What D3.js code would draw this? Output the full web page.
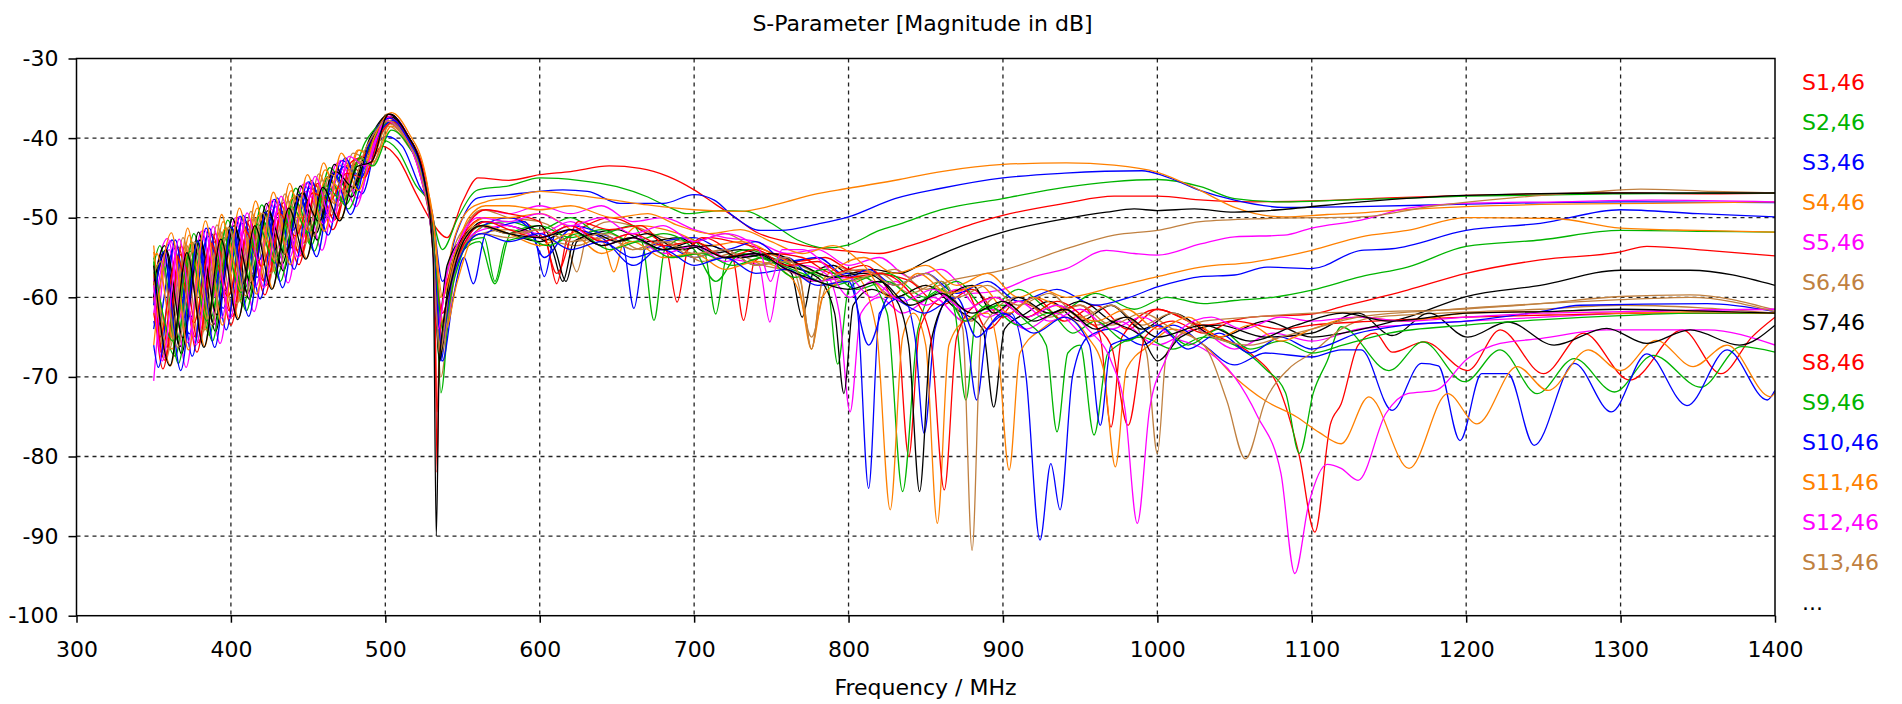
<!DOCTYPE html>
<html>
<head>
<meta charset="utf-8">
<script src="https://cdn.jsdelivr.net/npm/d3@7"></script>
<style>
  body { margin: 0; background: #fff; }
  svg text { font-family: "DejaVu Sans", Verdana, sans-serif; }
</style>
</head>
<body>
<svg id="chart" width="1902" height="704"></svg>
<script>
// ---- data (frequency in MHz, magnitude in dB) ----
var xTicks = [300, 400, 500, 600, 700, 800, 900, 1000, 1100, 1200, 1300, 1400];
var yTicks = [-30, -40, -50, -60, -70, -80, -90, -100];
var chartTitle = 'S-Parameter [Magnitude in dB]';
var xLabel = 'Frequency / MHz';
var legendLabels = ['S1,46','S2,46','S3,46','S4,46','S5,46','S6,46','S7,46','S8,46','S9,46','S10,46','S11,46','S12,46','S13,46','...'];

var s1 = [[350,-57],[355,-67],[366,-53.7],[377,-65],[388,-52.1],[399,-61.7],[410,-50.5],[421,-57.9],[432,-48.3],[443,-54.1],[454,-45.8],[465,-49.7],[476,-43.3],[486,-44.5],[498,-41],[508,-42.5],[520,-47],[530,-50.5],[540,-52.5],[550,-48],[560,-45],[580,-45.3],[600,-44.6],[620,-44.2],[645,-43.5],[665,-43.8],[683,-44.8],[700,-46.5],[713,-48.2],[726,-49.9],[740,-51.8],[760,-53],[780,-53.8],[800,-54.2],[820,-54.5],[840,-53.5],[860,-52.2],[880,-50.8],[900,-49.7],[940,-48.2],[972,-47.3],[1000,-47.3],[1030,-47.8],[1060,-48],[1100,-47.9],[1150,-47.5],[1200,-47.2],[1250,-47],[1300,-46.9],[1350,-47],[1400,-46.9]];
var s2 = [[350,-55],[364,-67.4],[375,-53.1],[386,-64.8],[397,-51.3],[408,-61.1],[419,-49.6],[430,-57.4],[441,-47.4],[452,-53.5],[463,-44.8],[474,-48.4],[484,-44],[497,-40.2],[508,-41.5],[520,-46],[528,-48],[537,-54],[547,-50],[560,-46.5],[580,-46],[600,-45],[625,-45.3],[650,-46.1],[670,-47.4],[685,-48.8],[695,-49.5],[717,-49.1],[734,-49.2],[750,-50.7],[767,-52.8],[785,-53.8],[800,-53.4],[820,-51.6],[833,-50.8],[860,-49],[900,-47.6],[940,-46.2],[970,-45.5],[1000,-45.2],[1028,-46.1],[1050,-47.6],[1080,-48],[1120,-47.8],[1200,-47.3],[1300,-47],[1400,-46.9]];
var s3 = [[350,-64],[362,-52.8],[373,-64.6],[384,-51.3],[395,-61.4],[406,-49.8],[417,-57.5],[428,-47.7],[439,-53.8],[450,-45.5],[461,-49.6],[472,-42.8],[483,-44.6],[493,-41],[501,-39.8],[511,-41],[522,-46],[530,-49],[537,-58],[546,-52],[560,-47.5],[580,-47.1],[600,-46.7],[615,-46.5],[631,-46.7],[652,-48.2],[680,-48.2],[700,-47.1],[713,-47.8],[726,-49.9],[743,-51.6],[756,-51.6],[780,-50.8],[800,-49.9],[830,-47.6],[860,-46.3],[900,-45],[940,-44.4],[990,-44.1],[1005,-44.8],[1028,-46.6],[1050,-47.8],[1082,-48.7],[1130,-48.6],[1200,-48.3],[1300,-48],[1400,-48.1]];
var s4 = [[350,-53.5],[361,-68.6],[372,-51.3],[383,-66.2],[394,-49.6],[405,-62.6],[416,-47.9],[427,-58.9],[438,-45.7],[449,-55.1],[460,-43.1],[471,-50.2],[482,-41.5],[490,-41.8],[502,-37.5],[513,-40],[525,-44.8],[531,-50],[536,-60],[544,-53],[554,-49],[565,-48],[580,-47.5],[600,-46.7],[625,-47.2],[648,-47.8],[670,-48.4],[700,-49],[730,-49.2],[756,-48.2],[777,-47.1],[800,-46.3],[833,-45.2],[860,-44.2],[900,-43.3],[941,-43.1],[972,-43.4],[1000,-44.3],[1028,-46.6],[1050,-48.7],[1082,-49.9],[1110,-49.6],[1132,-49.4],[1160,-49],[1200,-48.6],[1260,-48.3],[1320,-48.2],[1400,-48]];
var s5 = [[350,-58],[359,-52.6],[370,-64],[381,-51.7],[392,-61],[403,-50],[414,-57],[425,-48],[436,-53.4],[447,-45.8],[458,-49.3],[469,-43.1],[480,-46.5],[492,-40],[503,-37],[514,-39.5],[525,-45],[532,-55],[537,-62],[546,-54],[556,-50],[565,-49],[580,-49.5],[600,-48.5],[620,-49.5],[640,-48.5],[660,-50.5],[680,-50],[700,-51.5],[720,-52.5],[740,-53],[760,-54.5],[780,-54],[800,-56],[820,-55],[840,-57.5],[860,-56.5],[880,-59.5],[898,-59.1],[920,-57.4],[941,-56.4],[967,-54.1],[985,-54.5],[1000,-54.7],[1028,-53.3],[1050,-52.4],[1082,-52.2],[1100,-51.3],[1132,-50.3],[1162,-48.8],[1200,-48.2],[1260,-48],[1320,-47.8],[1400,-48]];
var s6 = [[350,-56],[358,-67.8],[369,-52.5],[380,-65.6],[391,-50.9],[402,-62.2],[413,-49.2],[424,-58.4],[435,-47],[446,-54.6],[457,-44.5],[468,-50],[479,-41.9],[488,-42.5],[501,-37],[512,-39],[524,-44.6],[531,-52],[535,-66],[543,-55],[552,-51],[563,-49],[580,-50],[600,-50.5],[617,-53],[624,-56.8],[631,-52],[645,-50.5],[660,-51],[680,-52.5],[700,-53],[720,-52],[740,-54],[760,-55.5],[776,-58],[790,-56],[810,-57.5],[830,-56.5],[850,-59],[866,-57.9],[900,-56.6],[941,-53.9],[972,-52.2],[1000,-51.6],[1028,-50.5],[1071,-50.1],[1132,-49.9],[1180,-48.5],[1230,-47.5],[1280,-46.8],[1313,-46.4],[1360,-46.7],[1400,-46.9]];
var s7 = [[350,-60],[356,-54.5],[367,-66.2],[378,-52.9],[389,-63.4],[400,-51.2],[411,-59.5],[422,-49.3],[433,-55.9],[444,-47.1],[455,-52],[466,-44.4],[477,-46.7],[490,-40],[503,-37],[514,-39.5],[525,-44.5],[531,-52],[534,-64],[540,-56],[553,-52],[563,-50.5],[580,-51],[600,-52.5],[608,-54],[615,-58],[622,-53],[635,-52],[650,-51.5],[670,-53],[690,-52.5],[710,-54.5],[730,-54],[750,-55.5],[763,-57],[770,-62.5],[777,-57],[790,-56],[800,-57],[815,-56.5],[833,-57],[850,-55.5],[866,-54.1],[900,-51.8],[941,-50.1],[967,-49.3],[985,-48.9],[1000,-49.1],[1024,-48.9],[1050,-49.3],[1072,-49.1],[1132,-48],[1200,-47.2],[1300,-46.9],[1400,-46.9]];
var s8 = [[350,-60],[356,-69],[367,-54.6],[378,-66.9],[389,-53],[400,-63.5],[411,-51.4],[422,-59.7],[433,-49.2],[444,-55.9],[455,-46.7],[466,-51.5],[477,-44.2],[487,-42],[500,-38],[511,-39.5],[523,-45],[530,-52],[532,-56],[533.5,-82],[535,-64],[545,-55],[555,-51],[565,-50],[580,-50],[604,-53],[611,-58.3],[618,-52.5],[630,-51],[645,-50],[665,-51.5],[682,-54],[689,-60.6],[696,-54],[710,-52.5],[725,-53],[745,-54],[765,-55.5],[785,-55],[800,-56.5],[820,-57],[840,-58],[860,-61],[880,-59],[900,-62.5],[920,-60],[940,-63],[960,-61],[981,-64],[1000,-61.5],[1030,-63.5],[1061,-62.5],[1100,-62.1],[1119,-61.2],[1162,-59.1],[1200,-57],[1248,-55.3],[1300,-54.3],[1317,-53.6],[1356,-54.1],[1400,-54.8]];
var s9 = [[350,-56],[354,-53.5],[365,-65.3],[376,-52],[387,-62.6],[398,-50.3],[409,-58.9],[420,-48.4],[431,-55.2],[442,-46.3],[453,-51.3],[464,-43.7],[475,-46.2],[487,-40.5],[502,-38],[513,-40],[524,-45.5],[531,-53],[535,-68],[541,-58],[550,-53],[562,-51],[580,-50.5],[600,-51.5],[620,-50],[640,-52],[660,-51],[667,-53.5],[674,-62.9],[681,-54],[695,-52.5],[707,-54.5],[714,-62.1],[721,-55],[735,-54],[750,-55],[770,-56.5],[786,-58],[793,-68.4],[800,-59],[812,-57.5],[825,-57],[850,-60],[870,-58],[890,-61.5],[910,-59],[935,-62],[960,-59.5],[985,-61.5],[1006,-60],[1030,-60.8],[1050,-60.4],[1075,-60],[1100,-59.1],[1132,-57.4],[1162,-56.2],[1200,-53.6],[1248,-52.8],[1300,-51.6],[1350,-51.7],[1400,-51.8]];
var s10 = [[350,-63],[352,-64],[363,-53.8],[374,-62.5],[385,-52.3],[396,-59.2],[407,-50.7],[418,-55.4],[429,-48.6],[440,-51.6],[451,-46.3],[462,-47.3],[473,-43.6],[484,-45],[494,-40],[504,-38],[514,-40.5],[525,-45.5],[532,-56],[536,-68],[542,-58],[550,-54],[560,-51.5],[580,-50],[596,-52],[603,-57.4],[610,-52],[620,-51],[640,-52],[654,-53.5],[661,-61.4],[668,-54],[680,-53],[700,-52.5],[720,-54],[740,-53],[760,-55.5],[780,-55],[800,-57.5],[813,-56.5],[830,-58.5],[850,-57],[870,-59.5],[890,-58],[910,-60.5],[935,-59],[960,-61],[982,-60],[1000,-58.7],[1015,-57.9],[1028,-57.4],[1050,-57.2],[1071,-56.2],[1100,-56.4],[1132,-54.1],[1152,-53.9],[1200,-51.6],[1248,-50.7],[1300,-49],[1350,-49.5],[1400,-49.9]];
var s11 = [[350,-54.3],[362,-66.5],[373,-52.2],[384,-64.1],[395,-50.5],[406,-60.5],[417,-48.8],[428,-56.7],[439,-46.6],[450,-52.9],[461,-44],[472,-48],[483,-41.5],[491,-42.5],[503,-37.5],[514,-40],[526,-45.5],[533,-56],[538,-65],[546,-56],[556,-51],[566,-50],[580,-50],[600,-49.5],[625,-52],[641,-53],[648,-56.8],[655,-52.5],[665,-51],[690,-52],[710,-53.5],[730,-53],[750,-54.5],[768,-57],[776,-66.5],[783,-58],[795,-56],[810,-55],[830,-57],[850,-56],[870,-58.5],[890,-57],[910,-60],[925,-59],[941,-60],[972,-58.7],[1000,-57.4],[1028,-56.2],[1061,-55.6],[1100,-54.1],[1132,-52.4],[1162,-51.6],[1200,-50],[1257,-50.1],[1300,-51.3],[1350,-51.6],[1400,-51.8]];
var s12 = [[350,-70.5],[360,-54],[371,-68.8],[382,-52.6],[393,-65.8],[404,-50.9],[415,-61.8],[426,-48.9],[437,-58.2],[448,-46.7],[459,-54.1],[470,-44],[481,-48.6],[492,-41],[503,-37.5],[515,-40],[526,-45.5],[533,-57],[537,-66],[545,-57],[555,-52],[565,-50.5],[580,-51],[600,-52],[620,-50.5],[640,-53],[660,-52],[680,-54.5],[700,-53.5],[720,-55],[742,-56],[749,-63.1],[756,-56.5],[770,-56],[785,-57],[794,-62],[801,-74.4],[808,-62],[820,-60],[835,-62],[855,-60],[875,-63],[895,-61.5],[915,-64],[935,-62],[955,-65],[975,-63],[1000,-66],[1025,-64],[1050,-66.5],[1075,-64.5],[1100,-65.5],[1130,-64],[1160,-63.5],[1200,-63],[1250,-62.5],[1300,-62],[1350,-61.6],[1400,-61.5]];
var s13 = [[350,-57],[359,-64.7],[370,-54.5],[381,-62.5],[392,-52.8],[403,-59],[414,-51.1],[425,-55.2],[436,-48.9],[447,-51.4],[458,-46.4],[469,-48.5],[480,-43.5],[490,-42.5],[502,-38.5],[513,-40.5],[525,-45.5],[532,-56],[536,-70],[543,-58],[552,-53],[562,-52],[580,-51.5],[600,-52.5],[624,-53.5],[645,-52],[665,-54],[685,-53],[705,-55.5],[725,-54.5],[745,-56],[765,-57],[776,-65],[786,-58.5],[810,-57.5],[830,-60],[850,-58.5],[870,-61],[879,-63],[895,-60],[915,-62.5],[935,-61],[960,-63.5],[980,-62.5],[993,-67],[1000,-79.6],[1006,-67],[1030,-63],[1060,-62.5],[1100,-62],[1141,-61.8],[1184,-61.6],[1248,-60.8],[1300,-59.9],[1345,-59.7],[1400,-61.6]];
var s14 = [[350,-58.5],[357,-53.5],[368,-67.1],[379,-51.8],[390,-64.3],[401,-50.1],[412,-60.3],[423,-48.2],[434,-56.7],[445,-46],[456,-52.8],[467,-43.3],[478,-47.4],[490,-40.5],[503,-37.3],[514,-39.5],[525,-45],[532,-55],[536,-67],[543,-56],[552,-52],[562,-51],[580,-52],[600,-53],[620,-51.5],[640,-53.5],[660,-52.5],[680,-54],[700,-53],[720,-55],[740,-54.5],[760,-56],[780,-57.5],[791,-62],[797,-72.1],[803,-61],[815,-59],[830,-60],[850,-58.5],[870,-61.5],[887,-64],[894,-73.8],[901,-64],[915,-62],[930,-60.5],[950,-63],[970,-61],[990,-64],[1010,-62],[1040,-65],[1070,-63],[1100,-65],[1120,-64.5],[1162,-62.5],[1200,-59.9],[1248,-58.5],[1300,-56.6],[1345,-56.6],[1400,-58.5]];
var s15 = [[350,-58],[357,-67.9],[368,-53.6],[379,-65.7],[390,-52],[401,-62.4],[412,-50.3],[423,-58.5],[434,-48.1],[445,-54.8],[456,-45.7],[467,-50.3],[478,-43],[488,-42],[501,-37.3],[512,-39.3],[524,-45],[531,-53],[533.5,-74.4],[536,-62],[546,-55],[555,-50.5],[565,-49],[580,-49.5],[600,-50.5],[611,-57],[625,-50.5],[645,-51.5],[665,-51],[689,-55],[705,-52.5],[725,-55],[732,-62.9],[739,-55.5],[750,-54.5],[770,-55],[790,-57],[810,-56],[825,-59],[832,-64],[839,-80],[846,-64],[860,-60],[875,-59],[890,-64],[910,-60.5],[930,-62],[950,-61],[963,-65],[970,-76.3],[977,-65],[1000,-61.5],[1020,-63],[1040,-65],[1060,-67],[1080,-72],[1092,-80],[1102,-89.5],[1112,-76],[1119,-73.4],[1130,-66],[1141,-64.5],[1152,-66.9],[1173,-65.6],[1201,-69.2],[1222,-64.1],[1250,-69.6],[1276,-64.5],[1306,-70.4],[1340,-64.1],[1365,-69.6],[1385,-65],[1400,-62.5]];
var s16 = [[350,-57],[355,-55.5],[366,-68.3],[377,-54],[388,-65.5],[399,-52.2],[410,-61.7],[421,-50.4],[432,-58],[443,-48.2],[454,-54.2],[465,-45.5],[476,-48.9],[489,-41.5],[503,-38],[514,-40.2],[525,-45.2],[532,-55],[536,-72],[542,-60],[551,-54],[561,-53],[571,-58.3],[581,-52],[600,-51],[620,-52.5],[640,-51.5],[660,-53],[680,-52],[700,-54],[714,-58],[730,-54.5],[750,-55.5],[770,-57],[790,-58.5],[810,-57.5],[825,-62],[835,-84.4],[845,-64],[860,-58],[869,-62],[876,-72.9],[883,-62],[900,-61],[915,-63],[928,-66],[935,-76.9],[942,-67],[950,-66],[959,-77.3],[968,-67],[990,-65],[1010,-66.5],[1030,-65],[1050,-66],[1070,-69],[1083,-72],[1092,-79.6],[1101,-72],[1110,-68],[1119,-63.7],[1150,-69.2],[1172,-65.6],[1199,-70.6],[1222,-66.6],[1246,-72.1],[1270,-67.7],[1296,-71.9],[1321,-67.3],[1352,-71.3],[1378,-66.2],[1400,-66.9]];
var s17 = [[350,-66],[353,-68.8],[364,-52.8],[375,-67.4],[386,-51.3],[397,-64.1],[408,-49.7],[419,-60.2],[430,-47.5],[441,-56.5],[452,-45.3],[463,-52.2],[474,-42.5],[485,-47],[495,-40],[505,-37.8],[516,-40.5],[527,-46],[533,-58],[537,-68],[544,-60],[551,-55],[557,-58.3],[565,-52],[590,-50.5],[603,-55],[620,-51.5],[640,-52.5],[661,-56],[680,-53.5],[700,-55],[720,-54],[740,-56],[760,-55],[780,-58],[800,-57],[806,-62],[813,-84],[820,-62],[835,-60],[843,-65],[849,-77.1],[856,-64],[866,-60],[876,-64],[883,-72.9],[890,-64],[905,-62],[915,-70],[924,-90.5],[931,-80.9],[937,-86.7],[945,-70],[955,-65],[970,-64],[990,-66],[1010,-63.5],[1030,-66],[1050,-68.5],[1070,-67],[1100,-67.5],[1119,-66.6],[1132,-66.6],[1152,-74.2],[1171,-68.3],[1182,-68.6],[1196,-78],[1210,-69.6],[1227,-69.6],[1244,-78.6],[1270,-68.3],[1294,-74.4],[1317,-67.1],[1343,-73.6],[1369,-66.6],[1395,-72.9],[1400,-71.7]];
var s18 = [[350,-55],[352,-54.5],[363,-65.5],[374,-53.2],[385,-63],[396,-51.4],[407,-59.3],[418,-49.7],[429,-55.5],[440,-47.5],[451,-51.8],[462,-44.9],[473,-46.7],[484,-42.5],[492,-43],[504,-38.5],[515,-40.8],[526,-45.8],[533,-58],[539,-64],[546,-58.5],[555,-53],[565,-51],[580,-52],[600,-53.5],[620,-52],[640,-54.5],[660,-53],[680,-55],[700,-54.5],[720,-56.5],[740,-55.5],[760,-57],[769,-60],[776,-66.5],[783,-60],[795,-58],[805,-57.5],[818,-64],[827,-86.7],[835,-65],[842,-62],[850,-66],[857.5,-88.4],[865,-66],[875,-63],[890,-62],[897,-67],[904,-81.7],[911,-67],[925,-64],[940,-62.5],[955,-65],[965,-69],[972.8,-81.3],[980,-69],[995,-66],[1010,-64],[1030,-66],[1050,-70],[1070,-73],[1090,-75],[1105,-77],[1119,-78.4],[1137,-72.5],[1163,-81.5],[1188,-72.1],[1207,-75.9],[1233,-68.7],[1253,-71.7],[1279,-66.6],[1300,-69.2],[1323,-65.4],[1347,-68.7],[1369,-66],[1397,-72.5],[1400,-72]];
var s19 = [[350,-62],[361,-52.9],[372,-65.7],[383,-51.5],[394,-62.6],[405,-49.9],[416,-58.7],[427,-47.8],[438,-55],[449,-45.6],[460,-50.8],[471,-42.8],[482,-47.6],[493,-40.5],[504,-37.2],[515,-39.8],[526,-45.3],[532,-56],[536,-66],[543,-58],[552,-53],[563,-51.5],[580,-51],[600,-52.5],[620,-51],[640,-53.5],[660,-52.5],[680,-54.5],[700,-53.5],[720,-55.5],[740,-54.5],[760,-56.5],[780,-58],[800,-57.5],[815,-60],[830,-58],[850,-61],[870,-59],[890,-62.5],[910,-60.5],[930,-63],[950,-61.5],[970,-64],[990,-62.5],[1010,-65],[1030,-66.5],[1050,-70],[1065,-75],[1080,-82.1],[1089,-94.7],[1098,-86],[1110,-81],[1119,-81.5],[1130,-83],[1148,-74.6],[1162,-72.1],[1180,-71.7],[1201,-67.7],[1222,-65.8],[1248,-65.2],[1291,-64.1],[1356,-64.1],[1400,-66]];
var s20 = [[350,-58],[360,-66.6],[371,-53.4],[382,-64.3],[393,-51.7],[404,-60.8],[415,-50],[426,-57],[437,-47.9],[448,-53.3],[459,-45.3],[470,-48.5],[481,-42.8],[491,-43.5],[503,-38.2],[514,-40.5],[525,-45.5],[532,-56],[536,-67],[544,-58],[553,-53],[563,-52],[580,-52.5],[600,-51.5],[620,-53],[645,-52.5],[660,-54],[680,-53],[700,-55],[720,-54],[740,-56],[760,-55.5],[780,-57],[800,-58],[820,-57],[840,-59.5],[860,-58],[874,-64],[880,-91.8],[886,-64],[910,-60],[930,-62.5],[950,-61],[970,-63.5],[990,-62],[1010,-64],[1030,-66],[1045,-73],[1057,-80.3],[1070,-73],[1085,-69],[1100,-67],[1119,-64],[1141,-62.5],[1184,-62],[1248,-61.5],[1300,-61],[1350,-61.3],[1400,-62]];
var s21 = [[350,-60],[358,-54],[369,-65.1],[380,-52.8],[391,-62.2],[402,-51],[413,-58.2],[424,-49.1],[435,-54.6],[446,-46.9],[457,-50.5],[468,-44.2],[479,-46.2],[491,-40.2],[503,-37],[514,-39.5],[525,-45],[531,-54],[535,-68],[541,-58],[550,-53],[560,-51],[580,-52],[600,-51],[610,-54],[617,-58],[624,-53],[635,-52],[650,-53],[670,-52],[690,-54],[710,-53.5],[730,-55],[750,-54.5],[770,-56],[790,-57.5],[810,-57],[830,-60],[839,-66],[846,-84.4],[853,-66],[865,-60],[880,-58.5],[894,-62],[910,-60],[930,-62],[950,-60.5],[970,-63],[990,-65],[1000,-68],[1015,-65],[1040,-63.5],[1070,-65],[1100,-64.5],[1130,-62],[1152,-64.8],[1176,-62],[1201,-65],[1227,-63.1],[1257,-66],[1291,-63.9],[1317,-65.8],[1345,-64.1],[1377,-66],[1400,-63.5]];
var s22 = [[350,-62],[354,-65],[365,-54.8],[376,-63.2],[387,-53.2],[398,-59.9],[409,-51.6],[420,-56.1],[431,-49.4],[442,-52.3],[453,-46.9],[464,-47.9],[475,-44.4],[486,-45],[497,-39.5],[505,-38],[516,-40.2],[527,-45.8],[533,-58],[537,-62],[545,-56],[555,-52],[565,-50.5],[580,-51.5],[600,-52.5],[620,-51],[640,-53],[660,-52],[680,-53.5],[700,-53],[720,-55],[740,-54],[760,-56],[780,-55.5],[800,-57.5],[820,-57],[840,-59.5],[853,-65],[862,-84.2],[870,-65],[882,-61],[895,-60],[915,-62.5],[935,-60.5],[955,-63],[970,-66],[981,-76.1],[992,-65],[1010,-63],[1030,-64.5],[1050,-63],[1080,-64],[1100,-63.5],[1140,-63],[1200,-62.5],[1260,-62.2],[1320,-62],[1400,-62]];
var s23 = [[350,-55.5],[362.5,-65.5],[373.5,-54.2],[384.5,-63],[395.5,-52.5],[406.5,-59.4],[417.5,-50.8],[428.5,-55.7],[439.5,-48.6],[450.5,-51.9],[461.5,-46],[472.5,-48],[483.5,-42.5],[492,-43.5],[504,-39],[515,-41],[526,-46],[533,-57],[537,-64],[545,-57.5],[554,-53],[564,-52.5],[571,-58],[578,-53],[590,-52.5],[605,-53.5],[625,-52],[645,-54],[665,-53],[685,-55],[705,-54.5],[725,-56],[745,-55],[765,-57.5],[785,-56.5],[805,-59],[825,-58],[845,-60.5],[860,-59],[876,-63],[890,-61],[910,-63.5],[930,-62],[945,-64.5],[960,-63],[980,-65.5],[1000,-63.5],[1020,-66],[1040,-64],[1060,-66.5],[1080,-65.5],[1100,-67],[1120,-66],[1150,-64.5],[1200,-63.5],[1250,-62.8],[1300,-62.3],[1350,-62],[1400,-62]];
var s24 = [[350,-61],[356.5,-54.3],[367.5,-69.2],[378.5,-52.9],[389.5,-66.3],[400.5,-51.2],[411.5,-62.4],[422.5,-49.3],[433.5,-58.8],[444.5,-47.1],[455.5,-54.9],[466.5,-44.4],[477.5,-49.6],[490,-40.5],[503,-37.5],[514,-40],[525,-45.5],[532,-56],[536,-65.8],[543,-58],[551,-54],[562,-52],[580,-53],[600,-52],[620,-54],[640,-53],[660,-55],[680,-54],[700,-56],[720,-55],[740,-57],[760,-56.5],[780,-58.5],[800,-58],[813,-66],[826,-60],[849,-62],[870,-60],[883,-65],[900,-62],[920,-64.5],[940,-62.5],[956,-66],[963,-76.1],[970,-66],[985,-65],[1000,-63.5],[1020,-66.5],[1040,-64.5],[1060,-67],[1080,-65],[1100,-66.5],[1130,-64.5],[1160,-63.5],[1200,-63],[1248,-61.8],[1274,-61],[1356,-60.8],[1400,-61.8]];
var s25 = [[350,-66],[361.5,-51.9],[372.5,-66.6],[383.5,-50.4],[394.5,-63.5],[405.5,-48.8],[416.5,-59.6],[427.5,-46.8],[438.5,-55.9],[449.5,-44.6],[460.5,-51.7],[471.5,-41.9],[482.5,-46.6],[493,-39.8],[504,-36.8],[515,-39.3],[526,-44.6],[532,-52],[537,-60],[545,-54.5],[554,-50],[565,-48.5],[580,-48.5],[600,-49],[620,-48.5],[648,-50],[670,-49.5],[690,-51],[710,-52],[730,-51.5],[750,-53],[770,-54.5],[790,-53.5],[810,-56],[827,-60],[845,-57],[865,-59.5],[885,-58.5],[904,-62],[920,-60],[940,-61.5],[960,-63],[980,-61.5],[1000,-64],[1020,-62.5],[1040,-65],[1060,-63.5],[1080,-65.5],[1100,-64],[1130,-62.5],[1160,-63],[1200,-62],[1250,-61.8],[1300,-62],[1350,-61.8],[1400,-62]];
var s26 = [[350,-58.5],[355.5,-68],[366.5,-52.7],[377.5,-66],[388.5,-51.1],[399.5,-62.7],[410.5,-49.4],[421.5,-58.8],[432.5,-47.3],[443.5,-55],[454.5,-44.8],[465.5,-50.6],[476.5,-42.3],[487,-43.5],[500,-37.8],[511,-39.3],[523,-45],[530,-52],[534,-64],[540,-57],[549,-52.5],[560,-50],[580,-50.5],[600,-49.5],[620,-51],[640,-50],[660,-52],[680,-51],[700,-53],[720,-52],[742,-54],[749.5,-58],[757,-54],[770,-54],[785,-56],[801,-60],[815,-58],[835,-60.5],[855,-59],[875,-61.5],[895,-60],[915,-62.5],[935,-61],[955,-64],[970,-68],[979,-74],[987,-88.4],[995,-74],[1005,-68],[1015,-64],[1035,-62.5],[1055,-64],[1080,-62.5],[1100,-63],[1130,-62.5],[1160,-63],[1200,-62.5],[1250,-62],[1300,-61.8],[1350,-61.6],[1400,-61.5]];
var s27 = [[350,-57],[354.5,-55.5],[365.5,-66.3],[376.5,-53],[387.5,-63.5],[398.5,-51.2],[409.5,-59.8],[420.5,-49.4],[431.5,-56.1],[442.5,-47.2],[453.5,-52.3],[464.5,-44.5],[475.5,-47],[488,-41],[502,-37.8],[513,-40],[524,-45.2],[531,-54],[535,-67],[542,-58],[550,-53],[560,-51],[580,-52],[600,-51.5],[620,-53],[640,-52],[660,-54],[680,-53],[700,-54.5],[720,-54],[740,-56],[760,-55],[769,-58],[776,-66.5],[783,-58],[795,-57],[810,-56.5],[830,-58.5],[850,-57],[870,-60],[890,-58.5],[910,-61],[930,-59.5],[950,-62.5],[970,-61],[990,-63.5],[1010,-62],[1030,-64.5],[1060,-66],[1080,-65],[1100,-64],[1130,-62.5],[1184,-61.6],[1248,-60.8],[1300,-60.3],[1345,-60],[1400,-61.8]];
var s28 = [[350,-56],[360.5,-68.6],[371.5,-54.4],[382.5,-66.3],[393.5,-52.7],[404.5,-62.8],[415.5,-51],[426.5,-59],[437.5,-48.8],[448.5,-55.2],[459.5,-46.2],[470.5,-50.4],[481.5,-43.6],[491,-43],[502,-37],[513,-39.2],[525,-45],[531,-55],[533,-90],[535,-68],[544,-57],[552,-52.5],[562,-51],[580,-52],[600,-52.5],[620,-51.5],[640,-53.5],[660,-52.5],[680,-54],[700,-53.5],[720,-55],[740,-54.5],[760,-56.5],[780,-58],[800,-59],[820,-58],[840,-61],[860,-59.5],[880,-62],[900,-60.5],[920,-63],[940,-61.5],[960,-64],[980,-62.5],[1000,-65],[1030,-63.5],[1060,-65.5],[1090,-63.5],[1120,-62],[1150,-63],[1200,-62],[1250,-61.8],[1300,-61.5],[1350,-61.7],[1400,-62]];

var allSeries = [s1, s2, s3, s4, s5, s6, s7, s8, s9, s10, s11, s12, s13, s14,
                 s15, s16, s17, s18, s19, s20, s21, s22, s23, s24, s25, s26, s27, s28];
var palette = ['#ff0000', '#00b400', '#0000ff', '#ff8000', '#ff00ff', '#c08040', '#000000'];

// ---- layout ----
var svg = d3.select('#chart');
var plot = { left: 76.5, right: 1775, top: 58.5, bottom: 615.7 };

var x = d3.scaleLinear().domain([300, 1400]).range([plot.left, plot.right]);
var y = d3.scaleLinear().domain([-100, -30]).range([plot.bottom, plot.top]);

svg.append('defs').append('clipPath')
    .attr('id', 'plot-clip')
  .append('rect')
    .attr('x', plot.left)
    .attr('y', plot.top)
    .attr('width', plot.right - plot.left)
    .attr('height', plot.bottom - plot.top);

// dashed grid
var grid = svg.append('g').attr('class', 'grid');
grid.selectAll('line.vgrid')
    .data(xTicks.slice(1, -1))
    .enter().append('line')
    .attr('x1', function(d) { return x(d); })
    .attr('x2', function(d) { return x(d); })
    .attr('y1', plot.top)
    .attr('y2', plot.bottom)
    .attr('stroke', '#222')
    .attr('stroke-width', 1.3)
    .attr('stroke-dasharray', '4,4');
grid.selectAll('line.hgrid')
    .data(yTicks.slice(1, -1))
    .enter().append('line')
    .attr('x1', plot.left)
    .attr('x2', plot.right)
    .attr('y1', function(d) { return y(d); })
    .attr('y2', function(d) { return y(d); })
    .attr('stroke', '#222')
    .attr('stroke-width', 1.3)
    .attr('stroke-dasharray', '4,4');

// curves
var line = d3.line()
    .x(function(d) { return x(d[0]); })
    .y(function(d) { return y(d[1]); })
    .curve(d3.curveMonotoneX);

svg.append('g')
    .attr('clip-path', 'url(#plot-clip)')
  .selectAll('path')
    .data(allSeries)
    .enter().append('path')
    .attr('d', line)
    .attr('fill', 'none')
    .attr('stroke', function(d, i) { return palette[i % palette.length]; })
    .attr('stroke-width', 1.3)
    .attr('stroke-linejoin', 'round');

// frame
svg.append('rect')
    .attr('x', plot.left)
    .attr('y', plot.top)
    .attr('width', plot.right - plot.left)
    .attr('height', plot.bottom - plot.top)
    .attr('fill', 'none')
    .attr('stroke', '#000')
    .attr('stroke-width', 1.5);

// axes (plain hyphen minus like the original)
var plainNumber = function(d) { return String(d); };
var xAxis = svg.append('g')
    .attr('transform', 'translate(0,' + plot.bottom + ')')
    .call(d3.axisBottom(x).tickValues(xTicks).tickSize(7).tickPadding(19).tickFormat(plainNumber));
var yAxis = svg.append('g')
    .attr('transform', 'translate(' + plot.left + ',0)')
    .call(d3.axisLeft(y).tickValues(yTicks).tickSize(8).tickPadding(10).tickFormat(plainNumber));

[xAxis, yAxis].forEach(function(ax) {
  ax.select('.domain').remove();
  ax.selectAll('.tick line').attr('stroke', '#000').attr('stroke-width', 1.5);
  ax.selectAll('.tick text')
      .style('font-family', '"DejaVu Sans", Verdana, sans-serif')
      .style('font-size', '22px')
      .style('fill', '#000');
});

// titles
svg.append('text')
    .attr('x', 922.5)
    .attr('y', 23)
    .attr('text-anchor', 'middle')
    .attr('dominant-baseline', 'central')
    .style('font-size', '22px')
    .style('fill', '#000')
    .text(chartTitle);

svg.append('text')
    .attr('x', 925.5)
    .attr('y', 687)
    .attr('text-anchor', 'middle')
    .attr('dominant-baseline', 'central')
    .style('font-size', '22px')
    .style('fill', '#000')
    .text(xLabel);

// legend
svg.append('g')
  .selectAll('text')
    .data(legendLabels)
    .enter().append('text')
    .attr('x', 1802)
    .attr('y', function(d, i) { return 82 + i * 40; })
    .attr('dominant-baseline', 'central')
    .style('font-size', '22px')
    .style('fill', function(d, i) { return d === '...' ? '#000' : palette[i % palette.length]; })
    .text(function(d) { return d; });
</script>
</body>
</html>
